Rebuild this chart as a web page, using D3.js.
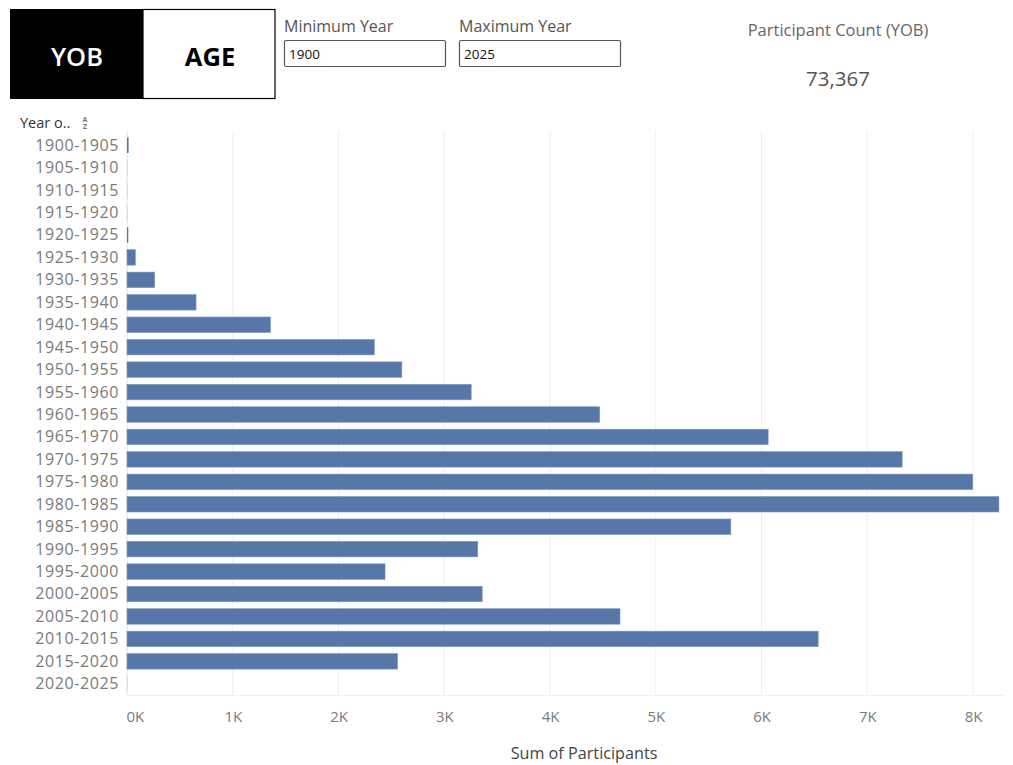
<!DOCTYPE html>
<html>
<head>
<meta charset="utf-8">
<script src="https://cdn.jsdelivr.net/npm/d3@7"></script>
<style>
  body { margin: 0; background: #fff; }
  svg { display: block; font-family: "Open Sans", sans-serif; }
</style>
</head>
<body>
<svg id="chart" width="1013" height="765"></svg>
<script>
const birthRanges = [
  "1900-1905", "1905-1910", "1910-1915", "1915-1920", "1920-1925",
  "1925-1930", "1930-1935", "1935-1940", "1940-1945", "1945-1950",
  "1950-1955", "1955-1960", "1960-1965", "1965-1970", "1970-1975",
  "1975-1980", "1980-1985", "1985-1990", "1990-1995", "1995-2000",
  "2000-2005", "2005-2010", "2010-2015", "2015-2020", "2020-2025"
];
const participants = [
  15, 2, 1, 2, 12,
  79, 262, 653, 1357, 2339,
  2599, 3255, 4470, 6063, 7330,
  7998, 8245, 5710, 3317, 2440,
  3359, 4662, 6536, 2559, 3
];
const xTicks = [0, 1000, 2000, 3000, 4000, 5000, 6000, 7000, 8000];
const yearFilter = { min: "1900", max: "2025" };
const totalLabel = "73,367";

const BAR_COLOR = "#5677a8";
const TEXT_GREY = "#7a7a7a";

const svg = d3.select("#chart");

// header toggle
const toggle = svg.append("g");
toggle.append("rect")
  .attr("x", 10).attr("y", 9).attr("width", 133).attr("height", 90)
  .attr("fill", "#000");
toggle.append("rect")
  .attr("x", 143).attr("y", 9.5).attr("width", 132).attr("height", 89)
  .attr("fill", "#fff").attr("stroke", "#000").attr("stroke-width", 1.2);
toggle.append("text")
  .attr("x", 77).attr("y", 65.5)
  .attr("text-anchor", "middle")
  .attr("fill", "#fff")
  .attr("font-size", 25.5).attr("font-weight", 600)
  .text("YOB");
toggle.append("text")
  .attr("x", 210).attr("y", 65.5)
  .attr("text-anchor", "middle")
  .attr("fill", "#000")
  .attr("font-size", 25.5).attr("font-weight", 700)
  .text("AGE");

// year filters
[
  { label: "Minimum Year", value: yearFilter.min, x: 284 },
  { label: "Maximum Year", value: yearFilter.max, x: 459 }
].forEach(f => {
  svg.append("text")
    .attr("x", f.x).attr("y", 32)
    .attr("fill", "#555")
    .attr("font-size", 16)
    .text(f.label);
  svg.append("rect")
    .attr("x", f.x + 0.5).attr("y", 40.5).attr("width", 161).attr("height", 26)
    .attr("rx", 1.5)
    .attr("fill", "#fff").attr("stroke", "#555").attr("stroke-width", 1.2);
  svg.append("text")
    .attr("x", f.x + 5).attr("y", 58.5)
    .attr("fill", "#111")
    .attr("font-size", 13.5)
    .text(f.value);
});

// participant count
svg.append("text")
  .attr("x", 838).attr("y", 36)
  .attr("text-anchor", "middle")
  .attr("fill", "#666")
  .attr("font-size", 16.5)
  .text("Participant Count (YOB)");
svg.append("text")
  .attr("x", 838).attr("y", 86)
  .attr("text-anchor", "middle")
  .attr("fill", "#555")
  .attr("font-size", 20.5)
  .text(totalLabel);

// scales
const x = d3.scaleLinear()
  .domain([0, 8000])
  .range([127, 973]);

const y = d3.scaleBand()
  .domain(birthRanges)
  .range([134, 695])
  .paddingInner(0.31)
  .paddingOuter(0.155);

// grid
svg.append("g")
  .selectAll("line")
  .data(xTicks)
  .join("line")
  .attr("x1", d => x(d)).attr("x2", d => x(d))
  .attr("y1", 131).attr("y2", 695)
  .attr("stroke", d => d === 0 ? "#e2e2e2" : "#efefef")
  .attr("stroke-width", 1);

svg.append("line")
  .attr("x1", 127).attr("x2", 1005)
  .attr("y1", 695.5).attr("y2", 695.5)
  .attr("stroke", "#f0f0f0");

// bars
svg.append("g")
  .selectAll("rect")
  .data(birthRanges.map((r, i) => ({ range: r, value: participants[i] })))
  .join("rect")
  .attr("x", x(0))
  .attr("y", d => y(d.range))
  .attr("width", d => Math.max(0.6, x(d.value) - x(0)))
  .attr("height", y.bandwidth())
  .attr("fill", BAR_COLOR)
  .attr("fill-opacity", d => d.value < 5 ? 0.25 : 1)
  .attr("stroke", "#7e97c0")
  .attr("stroke-width", d => d.value < 50 ? 0 : 0.6);

// y axis labels
const yAxis = d3.axisLeft(y).tickSize(0).tickPadding(0);
svg.append("g")
  .attr("transform", "translate(119,0)")
  .call(yAxis)
  .call(g => g.select(".domain").remove())
  .call(g => g.selectAll("text")
    .attr("fill", TEXT_GREY)
    .attr("font-size", 16)
    .attr("font-family", "Open Sans, sans-serif")
    .attr("letter-spacing", 0.6)
    .attr("dy", "0.34em"));

// x axis labels
const xAxis = d3.axisBottom(x)
  .tickValues(xTicks)
  .tickSize(0)
  .tickPadding(0)
  .tickFormat(d => `${d / 1000}K`);
svg.append("g")
  .attr("transform", "translate(0,713)")
  .call(xAxis)
  .call(g => g.select(".domain").remove())
  .call(g => g.selectAll("text")
    .attr("fill", TEXT_GREY)
    .attr("font-size", 15)
    .attr("font-family", "Open Sans, sans-serif")
    .attr("dy", "0.6em"))
  .call(g => g.selectAll(".tick")
    .filter(d => d === 0)
    .select("text")
    .attr("text-anchor", "start")
    .attr("dx", -1));

// axis titles
svg.append("text")
  .attr("x", 584).attr("y", 759)
  .attr("text-anchor", "middle")
  .attr("fill", "#444")
  .attr("font-size", 16.2)
  .text("Sum of Participants");

const yTitle = svg.append("g");
yTitle.append("text")
  .attr("x", 20).attr("y", 128)
  .attr("fill", "#333")
  .attr("font-size", 14.5)
  .text("Year o..");
yTitle.append("text")
  .attr("x", 85).attr("y", 122)
  .attr("text-anchor", "middle")
  .attr("fill", "#777")
  .attr("font-size", 7)
  .attr("font-weight", 700)
  .text("A");
yTitle.append("text")
  .attr("x", 85).attr("y", 129)
  .attr("text-anchor", "middle")
  .attr("fill", "#777")
  .attr("font-size", 7)
  .attr("font-weight", 700)
  .text("Z");
</script>
</body>
</html>
